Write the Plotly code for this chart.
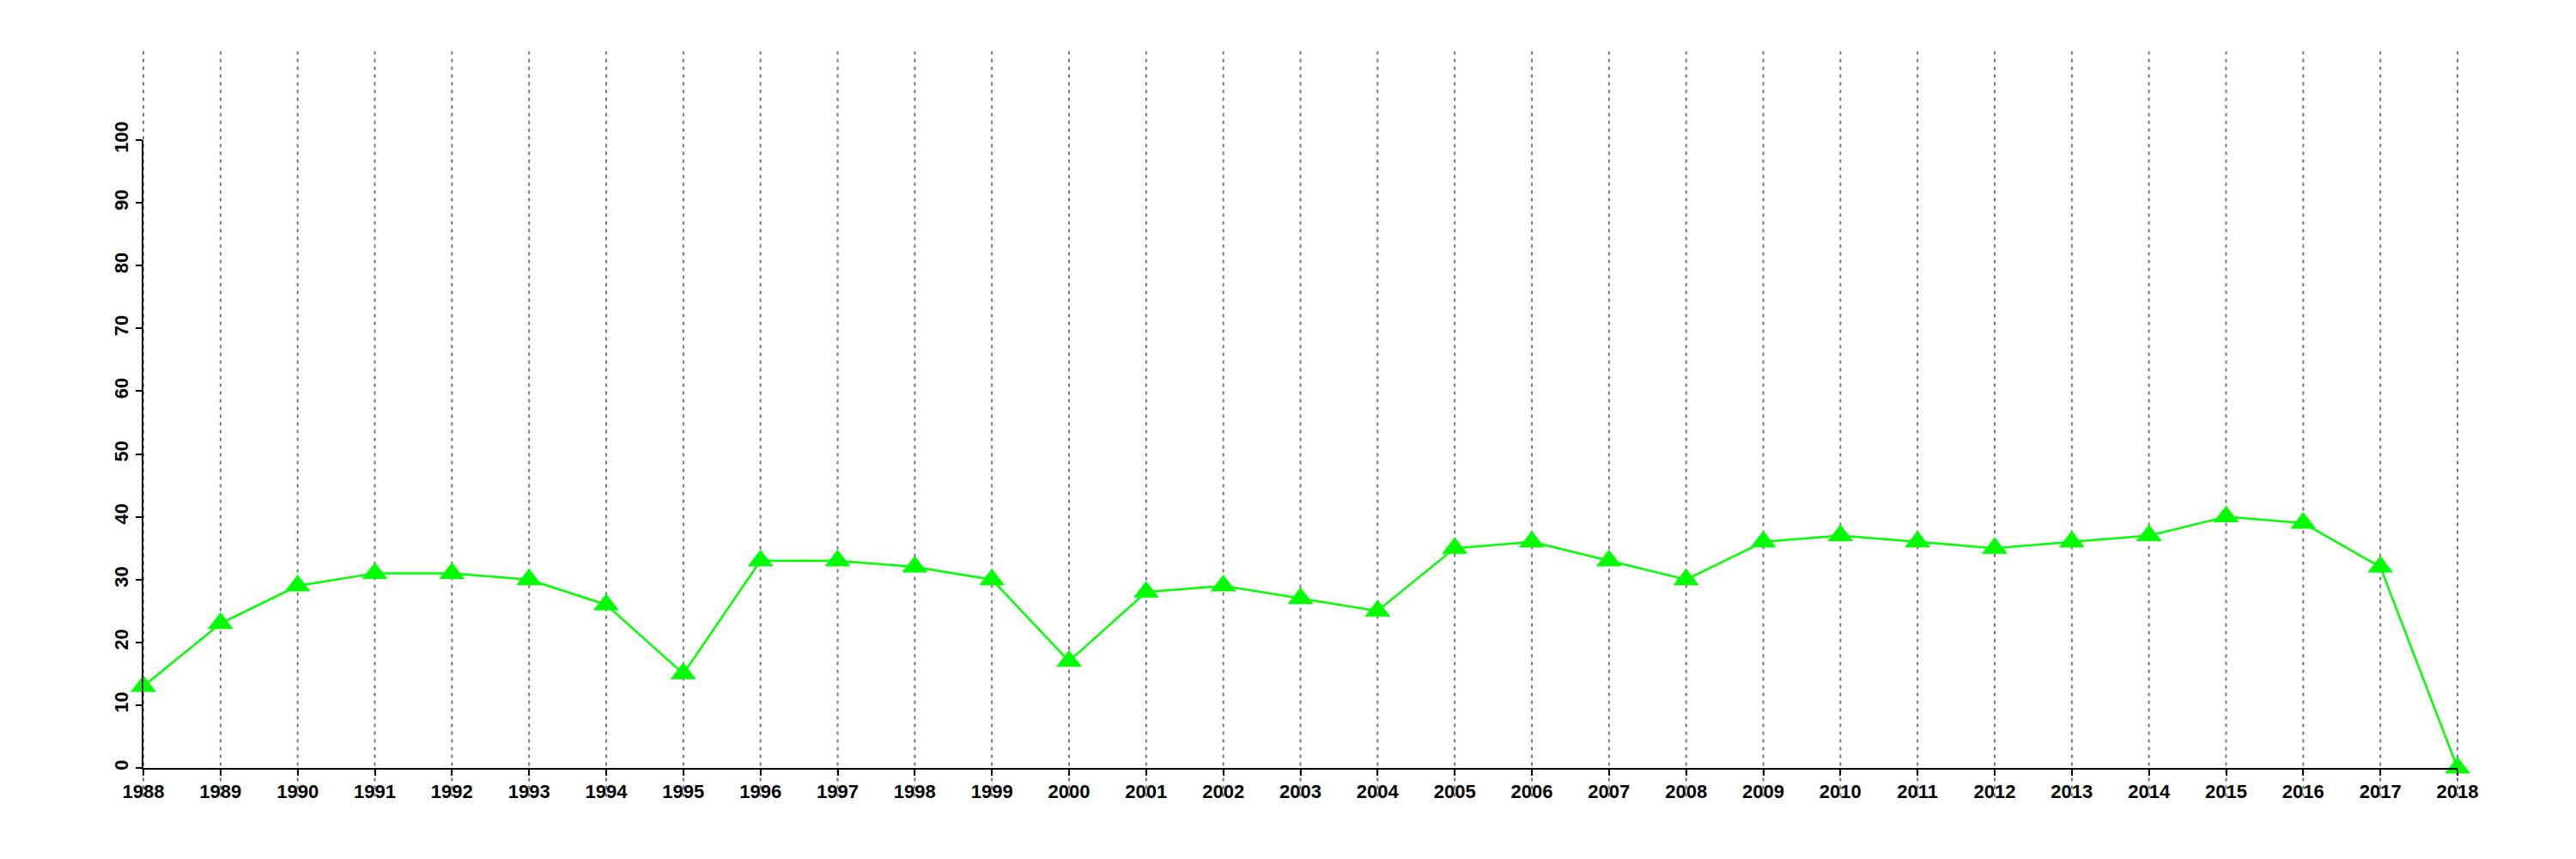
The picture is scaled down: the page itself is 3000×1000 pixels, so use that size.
import plotly.graph_objects as go

years = list(range(1988, 2019))
values = [13, 23, 29, 31, 31, 30, 26, 15, 33, 33, 32, 30, 17, 28, 29, 27, 25,
          35, 36, 33, 30, 36, 37, 36, 35, 36, 37, 40, 39, 32, 0]
y_ticks = list(range(0, 101, 10))

# page body has an 8px default margin; compensate
OFF = 8
W, H = 3000 - 2 * OFF, 1000 - 2 * OFF
ml = 166.7 - OFF
mt = 163.3 - OFF
mr = W - (2861.7 - OFF)
mb = H - (894 - OFF)
ph = H - mt - mb

x0, x1 = years[0], years[-1]
font = dict(family="Liberation Sans, Arial, sans-serif", size=22, color="black", weight="bold")

fig = go.Figure()
fig.add_trace(go.Scatter(
    x=years, y=values, mode="lines+markers",
    line=dict(color="#00ff00", width=2.5),
    marker=dict(symbol="triangle-up", size=26, color="#00ff00"),
    cliponaxis=False, showlegend=False,
))

shapes = []
g_bot = (894 - 927.5) / ph
g_top = (894 - 60) / ph
for yr in years:
    xp = (yr - x0) / (x1 - x0)
    shapes.append(dict(type="line", xref="paper", yref="paper",
                       x0=xp, x1=xp, y0=g_bot, y1=g_top, layer="below",
                       line=dict(color="#777777", width=2, dash="4px,5px")))

fig.update_layout(
    template="none",
    width=W, height=H,
    margin=dict(l=ml, r=mr, t=mt, b=mb, autoexpand=False),
    plot_bgcolor="white", paper_bgcolor="white",
    shapes=shapes,
    xaxis=dict(range=[x0, x1], tickmode="array", tickvals=years,
               ticktext=[str(y) for y in years], automargin=False,
               showgrid=False, zeroline=False, showline=True,
               linecolor="black", linewidth=2, ticks="outside",
               ticklen=7, tickwidth=2, tickcolor="black", tickfont=font),
    yaxis=dict(range=[0, 100], tickmode="array", tickvals=y_ticks,
               ticktext=[str(v) for v in y_ticks], automargin=False,
               showgrid=False, zeroline=False, showline=True,
               linecolor="black", linewidth=2, ticks="outside",
               ticklen=7, tickwidth=2, tickcolor="black", tickfont=font,
               tickangle=-90),
)

fig.write_html("out.html")
